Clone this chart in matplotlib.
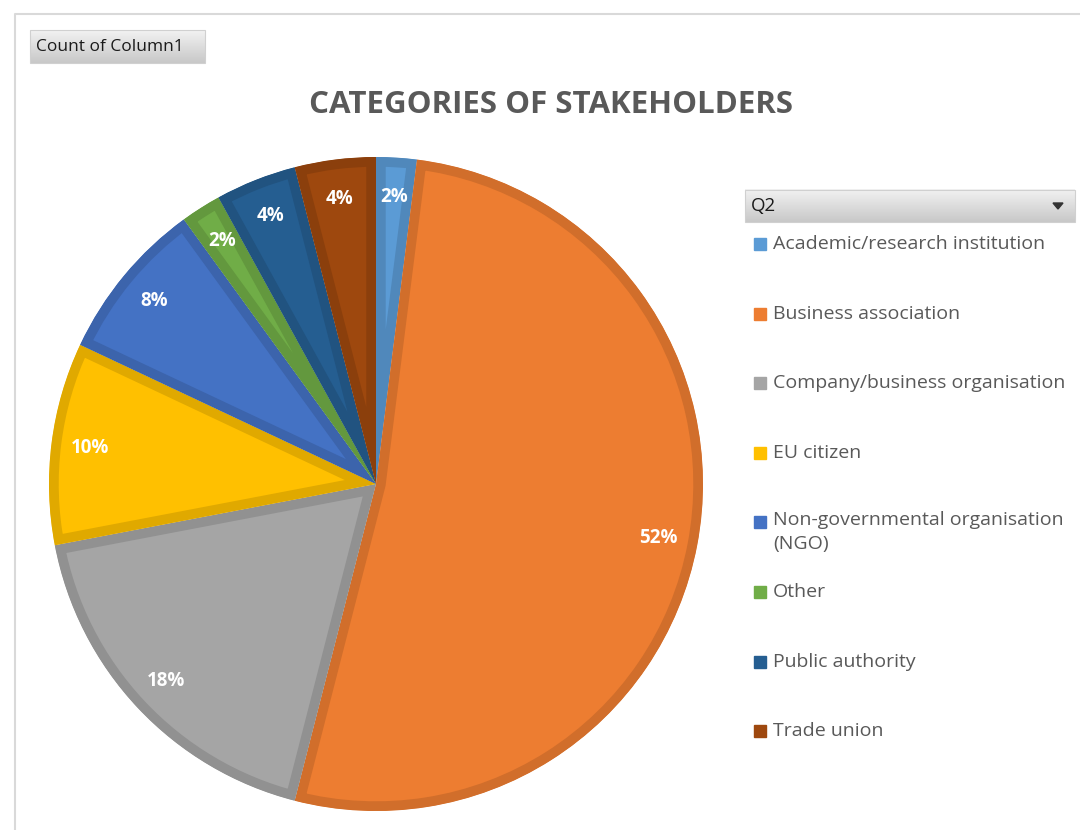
import numpy as np
import matplotlib.pyplot as plt
from matplotlib.patches import Rectangle, Polygon
import matplotlib.colors as mcolors

categories = ['Academic/research institution', 'Business association',
              'Company/business organisation', 'EU citizen',
              'Non-governmental organisation\n(NGO)', 'Other',
              'Public authority', 'Trade union']
counts = [1, 26, 9, 5, 4, 1, 2, 2]
colors = ['#5B9BD5', '#ED7D31', '#A5A5A5', '#FFC000',
          '#4472C4', '#70AD47', '#255E91', '#9E480E']

plt.rcParams['font.family'] = ['Open Sans', 'DejaVu Sans']

fig = plt.figure(figsize=(10.8, 8.3), dpi=100)
W, H = 1080, 830

# background frame + header boxes
bg = fig.add_axes([0, 0, 1, 1])
bg.axis('off')
bg.plot([15, 15, W], [H, 14, 14], color='#d9d9d9', lw=1.5)

gray_cmap = mcolors.LinearSegmentedColormap.from_list('g', ['#f2f2f2', '#c8c8c8'])

def grad_box(x0, y0, w, h):
    grad = np.linspace(0, 1, 50).reshape(-1, 1)
    bg.imshow(grad, extent=(x0, x0 + w, y0 + h, y0), cmap=gray_cmap,
              aspect='auto', origin='upper', zorder=1)
    bg.add_patch(Rectangle((x0, y0), w, h, fill=False, ec='#d0d0d0', lw=0.8, zorder=2))

grad_box(30, 30, 175, 33)
bg.text(36, 47, 'Count of Column1', fontsize=12.5, color='#1a1a1a', va='center', ha='left', zorder=3)
grad_box(745, 190, 330, 32)
bg.text(751, 206, 'Q2', fontsize=13.5, color='#1a1a1a', va='center', ha='left', zorder=3)
bg.add_patch(Polygon([[1053, 203], [1063, 203], [1058, 209]], color='#333333', zorder=3))
bg.set_xlim(0, W)
bg.set_ylim(H, 0)

fig.text(551 / W, 1 - 105 / H, 'CATEGORIES OF STAKEHOLDERS', fontsize=22.5, fontweight='bold',
         color='#595959', ha='center', va='center')

# pie
cx, cy, r = 376, 484, 327
ax = fig.add_axes([(cx - r) / W, (H - cy - r) / H, 2 * r / W, 2 * r / H])
wedges, texts, autotexts = ax.pie(counts, colors=colors, startangle=90, counterclock=False,
                                  autopct='%1.0f%%', pctdistance=0.88, radius=1,
                                  textprops=dict(color='white', fontsize=13.5, fontweight='bold'))
for w, c in zip(wedges, colors):
    dark = tuple(v * 0.88 for v in mcolors.to_rgb(c))
    w.set_edgecolor(dark)
    w.set_linewidth(14)
    w.set_clip_path(w)
    w.set_clip_on(True)
ax.set_xlim(-1, 1)
ax.set_ylim(-1, 1)
ax.set_aspect('equal')

# legend
leg_y = [244, 314, 383, 453, 522, 592, 662, 731]
for name, c, y in zip(categories, colors, leg_y):
    bg.add_patch(Rectangle((754, y - 6), 12, 12, color=c, zorder=3))
    if '\n' in name:
        bg.text(773, y - 11, name, fontsize=14, color='#595959', va='top',
                ha='left', linespacing=1.4, zorder=3)
    else:
        bg.text(773, y, name, fontsize=14, color='#595959', va='center',
                ha='left', zorder=3)

fig.savefig('out.png', dpi=100)
